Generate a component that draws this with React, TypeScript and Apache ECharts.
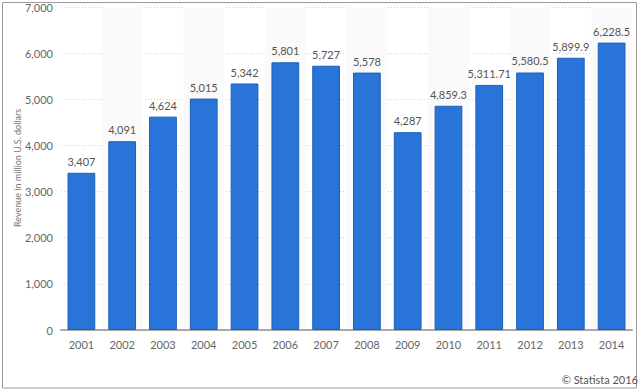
import React, { useEffect, useRef } from "react";
import * as echarts from "echarts";

const categories = ["2001", "2002", "2003", "2004", "2005", "2006", "2007", "2008", "2009", "2010", "2011", "2012", "2013", "2014"];
const revenue = [3407, 4091, 4624, 5015, 5342, 5801, 5727, 5578, 4287, 4859.3, 5311.71, 5580.5, 5899.9, 6228.5];
const yTicks = [0, 1000, 2000, 3000, 4000, 5000, 6000, 7000];
const yAxisTitle = "Revenue in million U.S. dollars";

const FONT = "Lato, 'Open Sans', sans-serif";
const fmt = (v: number) => v.toLocaleString("en-US", { maximumFractionDigits: 2 });

export default function App() {
  const ref = useRef<HTMLDivElement>(null);
  useEffect(() => {
    if (!ref.current) return;
    const chart = echarts.init(ref.current, null, { renderer: "svg" });
    chart.setOption({
      animation: false,
      backgroundColor: "#ffffff",
      grid: { left: 61, right: 8, top: 7, bottom: 61, containLabel: false },
      xAxis: {
        type: "category",
        data: categories,
        axisLine: { lineStyle: { color: "#a8a8a8", width: 2 } },
        axisTick: { show: false },
        axisLabel: { color: "#666", fontFamily: FONT, fontSize: 11, margin: 9 },
        splitArea: { show: true, areaStyle: { color: ["rgba(255,255,255,0)", "#fafafa"] } },
      },
      yAxis: {
        type: "value",
        min: yTicks[0],
        max: yTicks[yTicks.length - 1],
        interval: 1000,
        axisLine: { show: false },
        axisTick: { show: false },
        axisLabel: { color: "#666", fontFamily: FONT, fontSize: 11, margin: 8, formatter: (v: number) => fmt(v) },
        splitLine: { lineStyle: { color: "#d2d2d2", type: [1, 2], width: 1 } },
      },
      series: [
        {
          type: "bar",
          data: revenue,
          barWidth: "68%",
          itemStyle: { color: "#2874d8", borderColor: "#1d5fb8", borderWidth: 1 },
          label: {
            show: true,
            position: "top",
            distance: 6,
            color: "#555",
            fontFamily: FONT,
            fontSize: 11,
            formatter: (p: any) => fmt(p.value),
          },
          z: 3,
        },
      ],
      graphic: [
        {
          type: "text",
          x: 17,
          y: 168,
          rotation: Math.PI / 2,
          style: {
            text: yAxisTitle,
            fill: "#777",
            font: `9px ${FONT}`,
            align: "center",
            verticalAlign: "middle",
          },
          z: 11,
        },
        {
          type: "rect",
          shape: { x: 2.5, y: 2.5, width: 634, height: 385.5 },
          style: { fill: "none", stroke: "#9a9a9a", lineWidth: 1 },
          silent: true,
          z: 10,
        },
        {
          type: "text",
          right: 2,
          top: 374,
          style: { text: "© Statista 2016", fill: "#555", font: `11px ${FONT}` },
          z: 11,
        },
      ],
    });
    return () => chart.dispose();
  }, []);
  return (
    <div
      ref={ref}
      style={{ position: "fixed", left: 0, top: 0, width: 640, height: 391 }}
    />
  );
}
